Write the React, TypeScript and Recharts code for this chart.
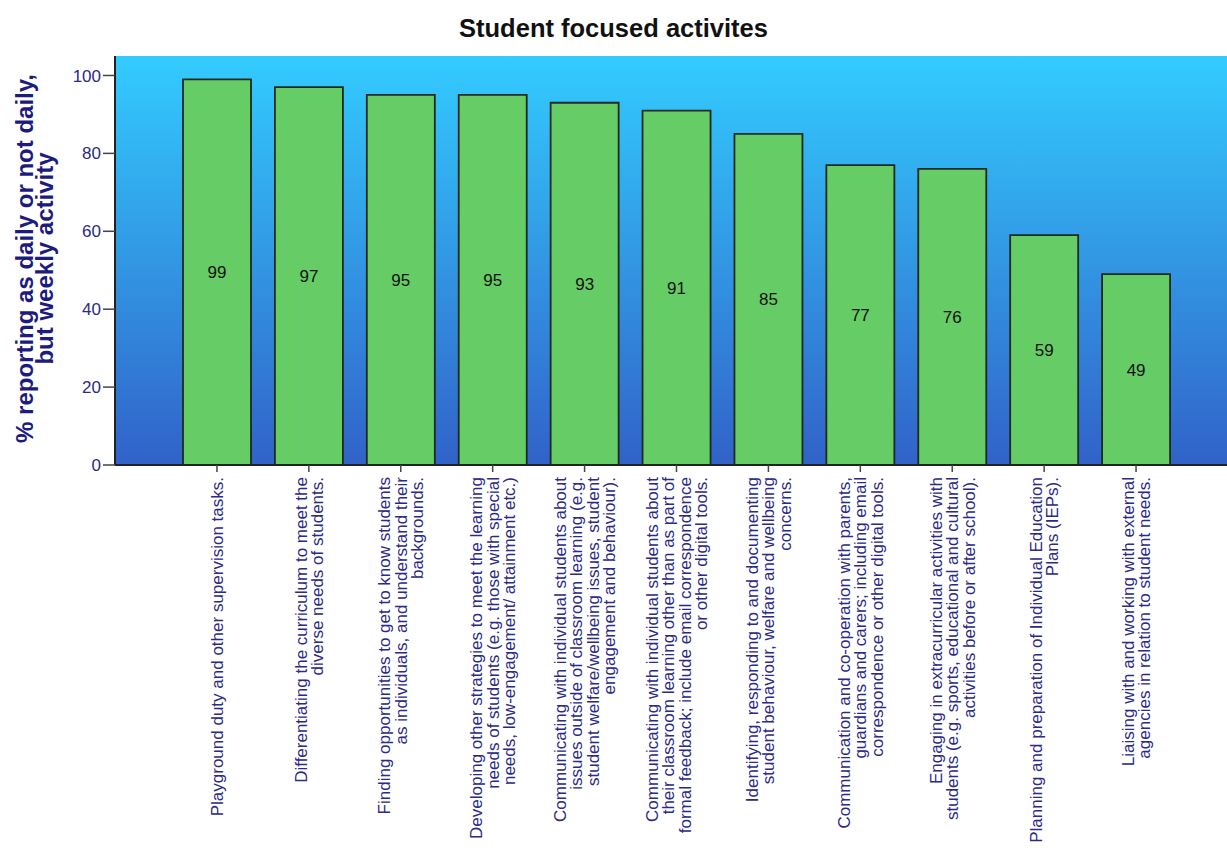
import { BarChart, Bar, XAxis, YAxis, CartesianGrid, LabelList } from 'recharts';

const categories: string[][] = [
    ['Playground duty and other supervision tasks.'],
    ['Differentiating the curriculum to meet the', 'diverse needs of students.'],
    ['Finding opportunities to get to know students', 'as individuals, and understand their', 'backgrounds.'],
    ['Developing other strategies to meet the learning', 'needs of students (e.g. those with special', 'needs, low-engagement/ attainment etc.)'],
    ['Communicating with individual students about', 'issues outside of classroom learning (e.g.', 'student welfare/wellbeing issues, student', 'engagement and behaviour).'],
    ['Communicating with individual students about', 'their classroom learning other than as part of', 'formal feedback; include email correspondence', 'or other digital tools.'],
    ['Identifying, responding to and documenting', 'student behaviour, welfare and wellbeing', 'concerns.'],
    ['Communication and co-operation with parents,', 'guardians and carers; including email', 'correspondence or other digital tools.'],
    ['Engaging in extracurricular activities with', 'students (e.g. sports, educational and cultural', 'activities before or after school).'],
    ['Planning and preparation of Individual Education', 'Plans (IEPs).'],
    ['Liaising with and working with external', 'agencies in relation to student needs.'],
];

const percentWeekly = [99, 97, 95, 95, 93, 91, 85, 77, 76, 59, 49];

const yTicks = [0, 20, 40, 60, 80, 100];

const chartData = categories.map((lines, i) => ({
    name: String(i),
    value: percentWeekly[i],
}));

const NAVY = '#2a2a88';
const FONT = '"Liberation Sans", Arial, sans-serif';

function CategoryTick(props: any) {
    const { x, y, payload } = props;
    const lines = categories[Number(payload.value)] || [];
    const n = lines.length;
    return (
        <g transform={`translate(${x},${y + 3}) rotate(-90)`}>
            <text textAnchor="end" fill={NAVY} fontSize={17} fontFamily={FONT}>
                {lines.map((line, i) => (
                    <tspan key={i} x={0} y={6 + (i - (n - 1) / 2) * 16.5}>{line}</tspan>
                ))}
            </text>
        </g>
    )
}

function YTitle(props: any) {
    const { viewBox } = props;
    const cy = viewBox.y + viewBox.height / 2 - 2;
    return (
        <text transform={`translate(0,${cy}) rotate(-90)`} textAnchor="middle" fill="#1c1c80"
            fontSize={24} fontWeight="bold" fontFamily={FONT}>
            <tspan x={0} y={33}>% reporting as daily or not daily,</tspan>
            <tspan x={0} y={53}>but weekly activity</tspan>
        </text>
    )
}

export default function App() {
    return (
        <div style={{ position: 'absolute', left: 0, top: 0, width: 1227, height: 848, background: '#fff' }}>
            <div style={{
                position: 'absolute', left: 0, top: 13, width: 1227, textAlign: 'center',
                fontFamily: FONT, fontWeight: 'bold', fontSize: 25.5, color: '#111', lineHeight: '30px'
            }}>
                Student focused activites
            </div>
            <BarChart width={1227} height={848} data={chartData}
                margin={{ top: 56, right: 0, bottom: 0, left: 0 }} barCategoryGap={0}>
                <defs>
                    <linearGradient id="plotBg" x1="0" y1="0" x2="0" y2="1">
                        <stop offset="0%" stopColor="#33ccff" />
                        <stop offset="100%" stopColor="#3162c8" />
                    </linearGradient>
                </defs>
                <CartesianGrid fill="url(#plotBg)" horizontal={false} vertical={false} />
                <XAxis xAxisId="top" orientation="top" dataKey="name" height={0} tick={false}
                    tickLine={false} axisLine={{ stroke: '#777', strokeWidth: 1.5 }} />
                <XAxis dataKey="name" height={383} interval={0} padding={{ left: 56, right: 45 }}
                    tick={<CategoryTick />} tickSize={7}
                    tickLine={{ stroke: '#444', strokeWidth: 1.5 }} axisLine={{ stroke: '#222', strokeWidth: 2 }} />
                <YAxis width={115} domain={[0, 105]} ticks={yTicks} tickSize={12} allowDataOverflow
                    tick={{ fill: NAVY, fontSize: 17, fontFamily: FONT }}
                    tickLine={{ stroke: '#444', strokeWidth: 1.5 }} axisLine={{ stroke: '#222', strokeWidth: 2 }}
                    label={<YTitle />} />
                <Bar dataKey="value" barSize={68} fill="#66cc66" stroke="#1e2a1e" strokeWidth={1.8}
                    isAnimationActive={false}>
                    <LabelList dataKey="value" position="center" fill="#111" fontSize={17} fontFamily={FONT} />
                </Bar>
            </BarChart>
        </div>
    )
}
